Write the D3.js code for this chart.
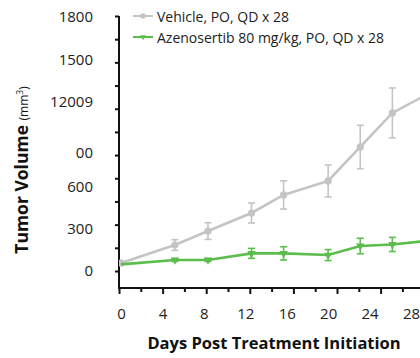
<!DOCTYPE html>
<html>
<head>
<meta charset="utf-8">
<script src="https://cdn.jsdelivr.net/npm/d3@7"></script>
<style>
  html, body { margin: 0; padding: 0; background: #fff; }
  svg { display: block; font-family: "Open Sans", "Noto Sans", sans-serif; }
</style>
</head>
<body>
<svg id="chart" width="420" height="358"></svg>
<script>
// Study days of each measurement
const days = [0, 5.2, 8.4, 12.6, 15.7, 20.0, 23.1, 26.2, 29.5];

// Mean tumour volume (mm³) and SEM per group
const vehicleMean = [57, 184, 283, 411, 539, 638, 879, 1120, 1250];
const vehicleErr  = [0, 38, 59, 71, 100, 113, 154, 177, 190];
const azenoMean   = [47, 78, 78, 125, 125, 113, 177, 188, 213];
const azenoErr    = [0, 10, 10, 35, 47, 39, 55, 50, 50];

const seriesNames = ["Vehicle, PO, QD x 28", "Azenosertib 80 mg/kg, PO, QD x 28"];

// Axis labels
const xTickValues = [0, 4, 8, 12, 16, 20, 24, 28];
const yTickValues = [0, 300, 600, 835, 1200, 1500, 1800];
const yTickLabels = ["0", "300", "600", "00", "12009", "1500", "1800"];

const xTitle = "Days Post Treatment Initiation";

const GRAY = "#c4c4c4";
const GREEN = "#5bbd4b";

const svg = d3.select("#chart");

const x = d3.scaleLinear().domain([0, 28]).range([121, 411]);
const y = d3.scaleLinear().domain([0, 1800]).range([271, 17]);

// tick-mark scales (marks are spaced independently of the labels)
const yMark = d3.scaleLinear().domain([0, 11]).range([271, 16]);
const xMark = d3.scaleLinear().domain([0, 14]).range([119, 424.2]);

const axisY = 288;
const axisX = 119;

// ---- axes ----
const yLab = svg.append("g").attr("transform", `translate(${axisX},0)`)
  .call(d3.axisLeft(y).tickValues(yTickValues)
    .tickFormat((d, i) => yTickLabels[i]).tickSize(0).tickPadding(26));
yLab.select(".domain").remove();
yLab.selectAll("text").attr("font-size", 15).attr("fill", "#222")
  .attr("font-family", "Open Sans");

const yM = svg.append("g").attr("transform", `translate(${axisX},0)`)
  .call(d3.axisLeft(yMark).tickValues(d3.range(12)).tickSize(4).tickFormat(""));
yM.select(".domain").remove();
yM.selectAll("line").attr("stroke", "#111").attr("stroke-width", 2);

const xLab = svg.append("g").attr("transform", `translate(0,${axisY})`)
  .call(d3.axisBottom(x).tickValues(xTickValues).tickSize(0).tickPadding(20));
xLab.select(".domain").remove();
xLab.selectAll("text").attr("font-size", 15).attr("fill", "#222")
  .attr("font-family", "Open Sans");

const xM = svg.append("g").attr("transform", `translate(0,${axisY})`)
  .call(d3.axisBottom(xMark).tickValues(d3.range(15)).tickFormat(""));
xM.select(".domain").remove();
xM.selectAll("line").attr("stroke", "#111").attr("stroke-width", 2)
  .attr("y2", (d) => d % 2 === 0 ? 6 : 4);

// axis lines
svg.append("line").attr("x1", axisX).attr("x2", axisX)
  .attr("y1", yMark(11)).attr("y2", axisY + 1)
  .attr("stroke", "#111").attr("stroke-width", 2);
svg.append("line").attr("x1", axisX - 1).attr("x2", 420)
  .attr("y1", axisY).attr("y2", axisY)
  .attr("stroke", "#111").attr("stroke-width", 2);

// ---- series ----
svg.append("clipPath").attr("id", "plot")
  .append("rect").attr("x", axisX).attr("y", 0).attr("width", 420 - axisX).attr("height", axisY);

const plot = svg.append("g").attr("clip-path", "url(#plot)");

const tri = d3.symbol().type(d3.symbolTriangle).size(30);

function drawSeries(mean, err, color, marker) {
  const pts = days.map((d, i) => ({ d, v: mean[i], e: err[i] }));
  const g = plot.append("g");
  const bars = g.selectAll(".err").data(pts.filter(p => p.e > 0)).join("g");
  bars.append("line")
    .attr("x1", p => x(p.d)).attr("x2", p => x(p.d))
    .attr("y1", p => y(p.v - p.e)).attr("y2", p => y(p.v + p.e))
    .attr("stroke", color).attr("stroke-width", 1.6);
  [-1, 1].forEach(s => {
    bars.append("line")
      .attr("x1", p => x(p.d) - 3.5).attr("x2", p => x(p.d) + 3.5)
      .attr("y1", p => y(p.v + s * p.e)).attr("y2", p => y(p.v + s * p.e))
      .attr("stroke", color).attr("stroke-width", 1.6);
  });
  g.append("path").datum(pts)
    .attr("fill", "none").attr("stroke", color).attr("stroke-width", 2.6)
    .attr("d", d3.line().x(p => x(p.d)).y(p => y(p.v)));
  if (marker === "circle") {
    g.selectAll(".pt").data(pts).join("circle")
      .attr("cx", p => x(p.d)).attr("cy", p => y(p.v)).attr("r", 3.6)
      .attr("fill", color);
  } else {
    g.selectAll(".pt").data(pts.slice(1)).join("path")
      .attr("transform", p => `translate(${x(p.d)},${y(p.v)}) rotate(180)`)
      .attr("d", tri).attr("fill", color);
  }
}

drawSeries(vehicleMean, vehicleErr, GRAY, "circle");
drawSeries(azenoMean, azenoErr, GREEN, "triangle");

// ---- legend ----
const legend = svg.append("g");
[[GRAY, "circle", 16], [GREEN, "triangle", 37]].forEach(([c, m, ly], i) => {
  legend.append("line").attr("x1", 133).attr("x2", 153).attr("y1", ly).attr("y2", ly)
    .attr("stroke", c).attr("stroke-width", 2);
  if (m === "circle") {
    legend.append("circle").attr("cx", 143).attr("cy", ly).attr("r", 2.8).attr("fill", c);
  } else {
    legend.append("path").attr("d", d3.symbol().type(d3.symbolTriangle).size(14))
      .attr("transform", `translate(143,${ly}) rotate(180)`).attr("fill", c);
  }
  legend.append("text").attr("x", 157).attr("y", ly + 1).attr("dy", "0.35em")
    .attr("font-size", 14).attr("fill", "#222").text(seriesNames[i]);
});

// ---- titles ----
svg.append("text").attr("x", 274).attr("y", 349)
  .attr("text-anchor", "middle").attr("font-size", 16.5).attr("font-weight", "bold")
  .attr("fill", "#111").text(xTitle);

const yt = svg.append("text")
  .attr("transform", "translate(28,170) rotate(-90)")
  .attr("text-anchor", "middle").attr("fill", "#111");
yt.append("tspan").attr("font-size", 17.5).attr("font-weight", "bold").text("Tumor Volume ");
yt.append("tspan").attr("font-size", 12).text("(mm");
yt.append("tspan").attr("font-size", 8.5).attr("dy", -5).text("3");
yt.append("tspan").attr("font-size", 12).attr("dy", 5).text(")");
</script>
</body>
</html>
